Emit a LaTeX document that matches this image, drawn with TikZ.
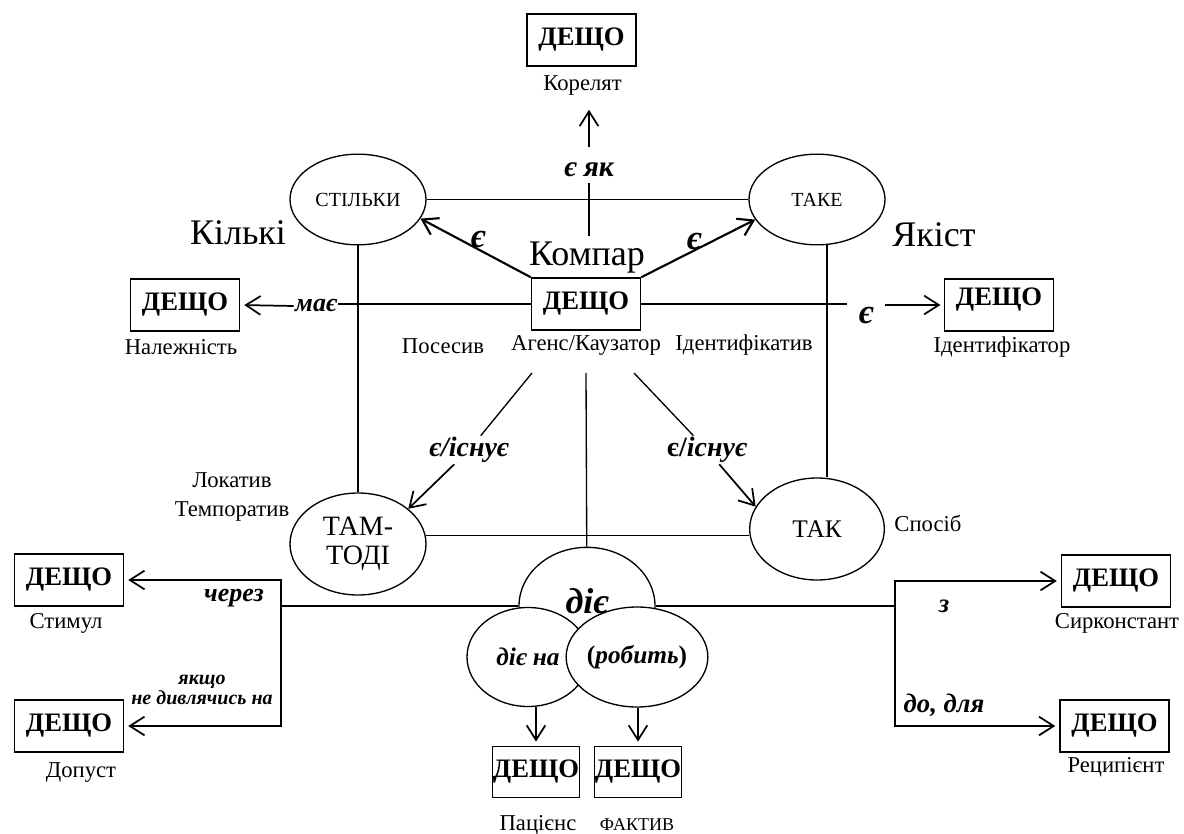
\documentclass[tikz,border=0pt]{standalone}
\usepackage{amsmath}
\usepackage{amssymb}
\usepackage{fontspec}
\setmainfont{Liberation Serif}
\usetikzlibrary{shapes.geometric,arrows.meta}

\newcommand{\fsLabel}{\fontsize{17}{21.3}\selectfont}
\newcommand{\fsBox}{\fontsize{20}{24}\selectfont}
\newcommand{\fsBig}{\fontsize{27}{32}\selectfont}
\newcommand{\fsEps}{\fontsize{26}{30}\selectfont}
\newcommand{\fsArc}{\fontsize{20}{24}\selectfont}
\newcommand{\fsSmall}{\fontsize{15}{15.5}\selectfont}
\newcommand{\fsOval}{\fontsize{15}{18}\selectfont}
\newcommand{\fsTam}{\fontsize{21}{21.5}\selectfont}
\newcommand{\fsTak}{\fontsize{19}{22}\selectfont}
\newcommand{\fsAct}{\fontsize{19}{22}\selectfont}
\newcommand{\fsTiny}{\fontsize{13.5}{16}\selectfont}

\begin{document}
\begin{tikzpicture}[x=0.75pt,y=0.75pt,yscale=-1,xscale=1,
  dbox/.style={draw,line width=1.1pt,minimum width=81.75pt,minimum height=39pt,inner sep=1pt,font=\fsBox\bfseries},
  sbox/.style={dbox,minimum width=62.5pt,minimum height=38.5pt,inner sep=0.5pt},
  oval/.style={draw,ellipse,line width=1pt,inner sep=0pt},
  lbl/.style={inner sep=1pt,font=\fsLabel},
  big/.style={inner sep=2pt,font=\fsBig},
  arclbl/.style={inner sep=1pt,font=\fsArc\bfseries\itshape},
  ln/.style={line width=1pt},
  arr/.style={-{Straight Barb[length=11pt,width=14pt]},line width=1.3pt},
  arrthick/.style={arr,line width=1.6pt},
  arrboth/.style={{Straight Barb[length=11pt,width=14pt]}-{Straight Barb[length=11pt,width=14pt]},line width=1.3pt}]
\useasboundingbox (0,0) rectangle (1184,834);

% Text Node
\node[dbox] (korel) at (581.5,40) {ДЕЩО};
\node[lbl] (korelLbl) at (582.5,85) {Корелят};
\node[arclbl,inner sep=4pt,font=\fontsize{22}{26}\selectfont\bfseries\itshape] (yak) at (589,170) {є як};
% Text Node
\node[oval,minimum width=102pt,minimum height=68pt,font=\fsOval] (stilky) at (358,199.5) {СТІЛЬКИ};
\node[oval,minimum width=102pt,minimum height=68pt,font=\fsOval] (take) at (817,199.5) {ТАКЕ};
% Text Node
\node[big] (kilk) at (238,233) {Кількі};
\node[big] (yakist) at (934,235) {Якіст};
\node[big,inner sep=4pt] (kompar) at (587,257.5) {Компар};
\node[inner sep=1pt,font=\fsEps\bfseries\itshape] (epsL) at (478,240) {є};
\node[inner sep=1pt,font=\fsEps\bfseries\itshape] (epsR) at (694,242) {є};
% Text Node
\node[dbox] (agent) at (586,304) {ДЕЩО};
\node[dbox] (nal) at (185,305) {ДЕЩО};
\node[dbox,text depth=12pt] (ident) at (999,305) {ДЕЩО};
\node[arclbl,font=\fontsize{19.5}{24}\selectfont\bfseries\itshape] (mae) at (316,306) {має};
\node[inner sep=1pt,font=\fsEps\bfseries\itshape] (eIdent) at (866,316) {є};
% Text Node
\node[lbl] (nalLbl) at (181,347) {Належність};
\node[lbl] (posesyv) at (443,346) {Посесив};
\node[lbl] (agentLbl) at (586,345) {Агенс/Каузатор};
\node[lbl] (identLbl) at (744,345) {Ідентифікатив};
\node[lbl] (identorLbl) at (1002,347) {Ідентифікатор};
% Text Node
\coordinate (dl) at (532,373);
\coordinate (dc) at (586,373);
\coordinate (dr) at (634,373);
\node[inner sep=1pt,font=\fontsize{21}{24}\selectfont\bfseries\itshape] (existL) at (469,450) {є/існує};
\node[inner sep=1pt,font=\fontsize{21}{24}\selectfont\bfseries] (existR) at (707,450) {є/\textit{існує}};
% Text Node
\node[oval,minimum width=102pt,minimum height=76.5pt,font=\fsTam,align=center] (tamtodi) at (358,544) {ТАМ-\\ТОДІ};
\node[oval,minimum width=101pt,minimum height=76.5pt,font=\fsTak] (tak) at (817,529) {ТАК};
\node[lbl,align=center] (lokat) at (232,497) {Локатив\\Темпоратив};
\node[lbl] (sposib) at (928,523) {Спосіб};
% Text Node
\node[dbox] (stimul) at (69,580) {ДЕЩО};
\node[lbl] (stimulLbl) at (66,623) {Стимул};
\node[dbox] (dopust) at (69,726) {ДЕЩО};
\node[lbl] (dopustLbl) at (81,773) {Допуст};
\node[arclbl,font=\fontsize{19.5}{24}\selectfont\bfseries\itshape] (cherez) at (234,598) {через};
\node[inner sep=1pt,font=\fsSmall\bfseries\itshape,align=center] (yakscho) at (202,690) {якщо\\не дивлячись на};
% Text Node
\node[dbox] (sirk) at (1116,581) {ДЕЩО};
\node[lbl] (sirkLbl) at (1117,623) {Сирконстант};
\node[dbox] (recip) at (1114.5,726) {ДЕЩО};
\node[lbl] (recipLbl) at (1116,767) {Реципієнт};
\node[arclbl] (z) at (944,606) {з};
\node[arclbl] (dodlya) at (944,705) {до, для};
% Text Node
\node[oval,minimum width=102pt,minimum height=88pt] (die) at (587,606) {};
\node[oval,fill=white,minimum width=91.5pt,minimum height=74.25pt,font=\fsAct\bfseries\itshape] (dieNa) at (528,657) {діє на};
\node[oval,fill=white,minimum width=102pt,minimum height=75pt,font=\fsAct\bfseries] (robyt) at (637,657) {(\textit{робить})};
\node[inner sep=1pt,font=\fsBig\bfseries\itshape] (dieTxt) at (587,601) {діє};
% Text Node
\node[sbox] (pac) at (536,772) {ДЕЩО};
\node[sbox] (faktyv) at (638,772) {ДЕЩО};
\node[lbl] (pacLbl) at (538,825) {Пацієнс};
\node[lbl,font=\fsTiny] (faktyvLbl) at (637,825) {ФАКТИВ};

% Connection
\draw[ln] (kompar.north -| yak) -- (yak);
\draw[arr,shorten <=7.5pt,shorten >=10pt] (yak) -- (yak |- korelLbl.south);
% Connection
\draw[ln] (stilky) -- (take);
\draw[arrthick] (agent.north west) -- (stilky.-17);
\draw[arrthick] (agent.north east) -- (take.198);
% Connection
\draw[ln] (agent.west) -- (agent.west -| mae.east);
\draw[arr,shorten >=3pt] (mae.west) -- (nal.east);
\draw[ln,shorten >=8pt] (agent.east) -- (agent.east -| eIdent.west);
\draw[arr,shorten <=8pt,shorten >=2.5pt] (eIdent.east |- ident.west) -- (ident.west);
% Connection
\draw[ln] (stilky) -- (tamtodi);
\draw[ln] ([xshift=7.5pt]take.south) -- ([xshift=7.5pt]tak.north);
\draw[ln] (tamtodi.7) -- (tamtodi.7 -| tak.west);
% Connection
\draw[ln] (dl) -- (existL);
\draw[arr] (existL) -- (tamtodi.35);
\draw[ln] (dc) -- (die);
\draw[ln] (dr) -- (existR);
\draw[arr] (existR) -- (tak.160);
% Connection
\coordinate (lbr) at (281,607);
\draw[ln] (die.west) -- (die.west -| lbr);
\draw[arrboth,shorten <=3pt,shorten >=3pt] (stimul.east) -- (stimul.east -| lbr) -- (dopust.east -| lbr) -- (dopust.east);
\coordinate (rbr) at (895,607);
\draw[ln] (die.east) -- (die.east -| rbr);
\draw[arrboth,shorten <=3pt,shorten >=3pt] (sirk.west) -- (sirk.west -| rbr) -- (recip.west -| rbr) -- (recip.west);
% Connection
\draw[arr,shorten >=3pt] (dieNa.south -| pac.north) -- (pac.north);
\draw[arr,shorten >=3pt] (robyt.south -| faktyv.north) -- (faktyv.north);

\end{tikzpicture}
\end{document}
